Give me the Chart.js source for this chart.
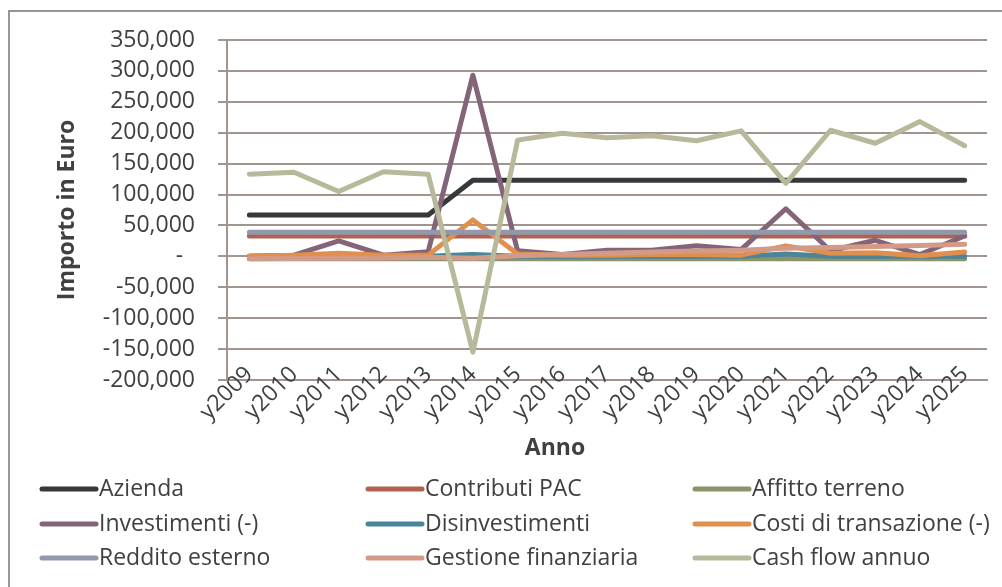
<!DOCTYPE html>
<html>
<head>
<meta charset="utf-8">
<title>Flussi di cassa</title>
<script src="https://cdn.jsdelivr.net/npm/chart.js@4/dist/chart.umd.min.js"></script>
<style>
  html, body { margin: 0; padding: 0; background: #fff; }
  #contenitore { width: 1002px; height: 587px; position: relative; }
</style>
</head>
<body>
<div id="contenitore"><canvas id="graficoFlussi"></canvas></div>
<script>
// Anni del piano
const anni = ['y2009', 'y2010', 'y2011', 'y2012', 'y2013', 'y2014', 'y2015', 'y2016', 'y2017',
              'y2018', 'y2019', 'y2020', 'y2021', 'y2022', 'y2023', 'y2024', 'y2025'];

// Importi in euro per voce
const azienda        = [67000, 67000, 67000, 67000, 67000, 123000, 123000, 123000, 123000, 123000, 123000, 123000, 123000, 123000, 123000, 123000, 123000];
const contributiPac  = [33000, 33000, 33000, 33000, 33000, 33000, 33000, 33000, 33000, 33000, 33000, 33000, 33000, 33000, 33000, 33000, 33000];
const affittoTerreno = [-4000, -4000, -4000, -4000, -4000, -4000, -4000, -4000, -4000, -4000, -4000, -4000, -4000, -4000, -4000, -4000, -4000];
const investimenti   = [0, 2000, 25000, 2000, 7500, 293000, 9000, 3000, 10000, 10000, 17000, 11000, 77000, 9000, 26000, 3000, 33000];
const disinvestimenti = [0, 0, 0, 0, 0, 3000, 0, 0, 0, 0, 0, 0, 4000, 0, 0, 0, 0];
const costiTransazione = [0, 2000, 5000, 2000, 2000, 59000, 4000, 2000, 2000, 3000, 3000, 2000, 17000, 5000, 6000, 1000, 7000];
const redditoEsterno = [39000, 39000, 39000, 39000, 39000, 39000, 39000, 39000, 39000, 39000, 39000, 39000, 39000, 39000, 39000, 39000, 39000];
const gestioneFin    = [-4000, -3500, -3000, -2500, -1500, -3000, 1000, 3000, 5000, 7000, 8500, 10000, 13000, 14500, 16000, 17500, 19500];
const cashFlow       = [133000, 136000, 105000, 137000, 133000, -155000, 188000, 199000, 192000, 195000, 187000, 203000, 118000, 204000, 183000, 218000, 179000];

// Limiti dell'asse verticale
const assoYMin = -200000;
const assoYMax = 350000;
const assoYPasso = 50000;

const voci = [
  { nome: 'Azienda', dati: azienda, colore: '#38373c' },
  { nome: 'Contributi PAC', dati: contributiPac, colore: '#b3614f' },
  { nome: 'Affitto terreno', dati: affittoTerreno, colore: '#8c936a' },
  { nome: 'Investimenti (-)', dati: investimenti, colore: '#846478' },
  { nome: 'Disinvestimenti', dati: disinvestimenti, colore: '#4a8599' },
  { nome: 'Costi di transazione (-)', dati: costiTransazione, colore: '#e08f4c' },
  { nome: 'Reddito esterno', dati: redditoEsterno, colore: '#9399ad' },
  { nome: 'Gestione finanziaria', dati: gestioneFin, colore: '#d39b87' },
  { nome: 'Cash flow annuo', dati: cashFlow, colore: '#b8b99b' }
];

const FONT = '"Open Sans", "DejaVu Sans", sans-serif';
const TESTO = '#404040';
const GRIGLIA = '#a0958f';

// cornice, titolo asse X e legenda a tre colonne disegnati a mano
const cornice = {
  id: 'cornice',
  beforeDraw(chart) {
    const c = chart.ctx;
    c.save();
    c.fillStyle = '#ffffff';
    c.fillRect(0, 0, chart.width, chart.height);
    c.strokeStyle = '#9d9390';
    c.lineWidth = 2;
    c.strokeRect(9, 11, chart.width + 40, chart.height + 40);
    c.restore();
    // le etichette degli anni salgono sopra la linea dell'asse: niente ritaglio
    chart.scales.x._computeLabelArea = () => undefined;
  },
  afterDraw(chart) {
    const c = chart.ctx;
    c.save();
    c.fillStyle = TESTO;
    c.font = 'bold 23px ' + FONT;
    c.textAlign = 'center';
    c.textBaseline = 'middle';
    c.fillText('Anno', 555, 448);

    const colonne = [42, 368, 695];
    const righe = [489, 524, 558];
    c.font = '23px ' + FONT;
    c.textAlign = 'left';
    chart.data.datasets.forEach((ds, i) => {
      const x = colonne[i % 3];
      const y = righe[Math.floor(i / 3)];
      c.strokeStyle = ds.borderColor;
      c.lineWidth = 5;
      c.lineCap = 'round';
      c.beginPath();
      c.moveTo(x, y);
      c.lineTo(x + 54, y);
      c.stroke();
      c.fillText(ds.label, x + 57, y);
    });
    c.restore();
  }
};

new Chart(document.getElementById('graficoFlussi'), {
  type: 'line',
  data: {
    labels: anni,
    datasets: voci.map((v, i) => ({
      label: v.nome,
      data: v.dati,
      borderColor: v.colore,
      backgroundColor: v.colore,
      borderWidth: 5,
      borderCapStyle: 'round',
      borderJoinStyle: 'round',
      pointRadius: 0,
      tension: 0,
      order: voci.length - i  // le ultime voci stanno sopra
    }))
  },
  options: {
    responsive: true,
    maintainAspectRatio: false,
    animation: false,
    layout: { padding: { left: 10, top: 40, right: 15, bottom: 117 } },
    plugins: {
      legend: { display: false },
      tooltip: { enabled: false }
    },
    scales: {
      x: {
        offset: true,
        grid: { display: false, drawTicks: false },
        border: { display: true, color: GRIGLIA, width: 2 },
        ticks: {
          autoSkip: false,
          maxRotation: 45,
          minRotation: 45,
          padding: -19,
          color: TESTO,
          font: { family: FONT, size: 23 }
        },
        afterFit(scale) { scale.height = 90; }
      },
      y: {
        min: assoYMin,
        max: assoYMax,
        grid: { color: GRIGLIA, lineWidth: 2, tickLength: 9, tickColor: GRIGLIA },
        border: { display: true, color: GRIGLIA, width: 2 },
        ticks: {
          stepSize: assoYPasso,
          autoSkip: false,
          padding: 23,
          color: TESTO,
          font: { family: FONT, size: 23 },
          callback: v => v === 0 ? '-  ' : v.toLocaleString('en-US')
        },
        title: {
          display: true,
          text: 'Importo in Euro',
          color: TESTO,
          padding: { top: 44 },
          font: { family: FONT, size: 23, weight: 'bold' }
        },
        afterFit(scale) { scale.width = 217; }
      }
    }
  },
  plugins: [cornice]
});
</script>
</body>
</html>
